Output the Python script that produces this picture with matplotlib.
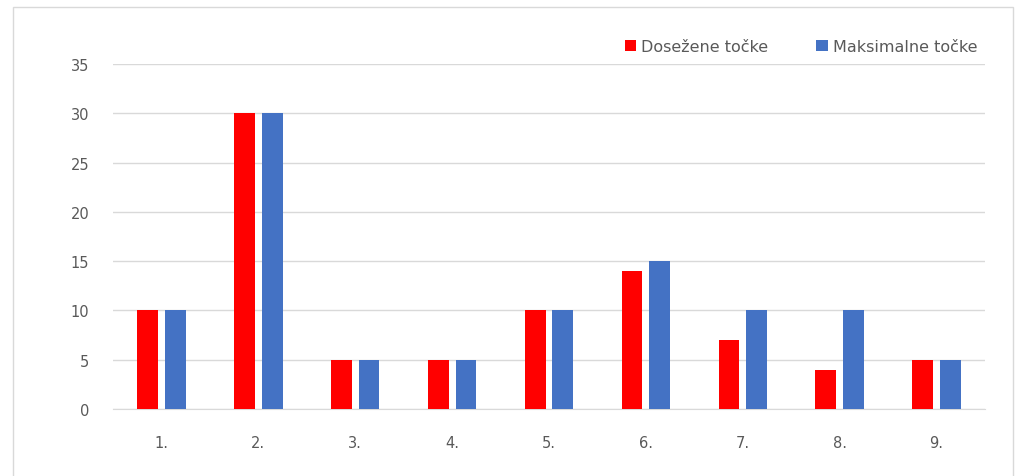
import numpy as np
from matplotlib import pyplot as plt
from matplotlib.patches import Rectangle

categories = ["1.", "2.", "3.", "4.", "5.", "6.", "7.", "8.", "9."]
dosezene = [10, 30, 5, 5, 10, 14, 7, 4, 5]
maksimalne = [10, 30, 5, 5, 10, 15, 10, 10, 5]

plt.rcParams['font.family'] = ['DejaVu Sans']

fig = plt.figure(figsize=(10.19, 4.77), dpi=100)
W, H = 1019, 477
ax = fig.add_axes([113/W, 1 - 410/H, (985-113)/W, (410-65)/H])

# outer chart frame
fig.patches.append(Rectangle((13/W, -0.2), (1013-13)/W, 1.2 - 8/H,
                             transform=fig.transFigure, fill=False,
                             edgecolor='#d9d9d9', linewidth=1))

x = np.arange(len(categories))
bw = 0.215
gap = 0.07
ax.bar(x - (bw+gap)/2, dosezene, bw, color='#ff0000', label='Dosežene točke', zorder=3)
ax.bar(x + (bw+gap)/2, maksimalne, bw, color='#4472c4', label='Maksimalne točke', zorder=3)

ax.set_xlim(-0.5, len(categories) - 0.5)
ax.set_ylim(0, 35)
ax.set_yticks(range(0, 36, 5))
ax.set_xticks(x)
ax.set_xticklabels(categories)
ax.yaxis.grid(True, color='#d9d9d9', linewidth=1, zorder=0)
for s in ['top', 'right', 'left']:
    ax.spines[s].set_visible(False)
ax.spines['bottom'].set_color('#d9d9d9')
ax.tick_params(length=0, colors='#595959', labelsize=10.5)
ax.tick_params(axis='x', pad=19)
ax.tick_params(axis='y', pad=17)

leg = ax.legend(loc='upper right', bbox_to_anchor=(1.008, 1.114), ncol=2, frameon=False,
                handlelength=0.75, handleheight=0.75, handletextpad=0.3, columnspacing=3.0,
                fontsize=11.5)
for t in leg.get_texts():
    t.set_color('#595959')

fig.savefig('out.png', dpi=100)
